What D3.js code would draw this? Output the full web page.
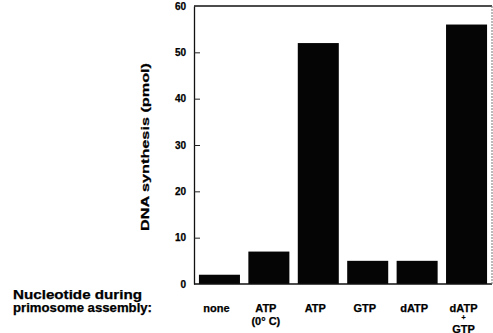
<!DOCTYPE html>
<html><head><meta charset="utf-8">
<script src="https://cdn.jsdelivr.net/npm/d3@7"></script>
<style>
body{margin:0;background:#fff;}
text{font-family:"Liberation Sans",Arial,sans-serif;font-weight:bold;fill:#000;stroke:#000;stroke-width:0.25px;}
</style></head>
<body><svg id="c" width="493" height="333"></svg>
<script>
const categories = ["none", "ATP\n(0° C)", "ATP", "GTP", "dATP", "dATP\n+\nGTP"];
const values = [2, 7, 52, 5, 5, 56];
const yTicks = [0, 10, 20, 30, 40, 50, 60];
const yTitle = "DNA synthesis (pmol)";
const rowLabel = ["Nucleotide during", "primosome assembly:"];

const svg = d3.select("#c");
const L = 194, R = 492, T = 6, B = 284;
const x = d3.scaleBand().domain(categories).range([L, R]).paddingInner(0.17).paddingOuter(0.1);
const y = d3.scaleLinear().domain([0, 60]).range([B, T]);

// bars
svg.selectAll("rect.bar").data(values).enter().append("rect")
  .attr("class","bar")
  .attr("x",(d,i)=>x(categories[i]))
  .attr("width",x.bandwidth())
  .attr("y",d=>y(d))
  .attr("height",d=>y(0)-y(d))
  .attr("fill","#050505");

// frame
svg.append("line").attr("x1",L).attr("x2",R).attr("y1",T).attr("y2",T).attr("stroke","#111").attr("stroke-width",1.3);
svg.append("line").attr("x1",L).attr("x2",R).attr("y1",B).attr("y2",B).attr("stroke","#111").attr("stroke-width",1.3);
svg.append("line").attr("x1",R).attr("x2",R).attr("y1",T).attr("y2",B).attr("stroke","#777").attr("stroke-width",1).attr("stroke-dasharray","2,1");

// y axis
const ya = svg.append("g").attr("transform",`translate(${L},0)`)
  .call(d3.axisLeft(y).tickValues(yTicks).tickSizeInner(-6).tickSizeOuter(0).tickPadding(8));
ya.select(".domain").attr("stroke","#111").attr("stroke-width",1.3);
ya.selectAll(".tick line").attr("stroke","#222");
ya.selectAll(".tick text").style("font-size","10px").style("font-weight","bold").attr("fill","#000");
ya.selectAll(".tick").filter(d=>d===0||d===60).select("line").remove();

// y title
svg.append("text").attr("transform","translate(149,147) rotate(-90)")
  .attr("text-anchor","middle").style("font-size","11px")
  .attr("textLength",168).attr("lengthAdjust","spacingAndGlyphs").text(yTitle);

// x labels
categories.forEach((c,i)=>{
  const lines = c.split("\n");
  const cx = x(c) + x.bandwidth()/2 - 3;
  const t = svg.append("text").attr("text-anchor","middle").style("font-size","11px");
  lines.forEach((ln,j)=>{
    const dy = lines.length===3 ? [312,319.5,332.5][j] : [312,325][j];
    const ts = t.append("tspan").attr("x",cx).attr("y",dy).text(ln);
    if (lines.length===3 && j===1) ts.style("font-size","7px");
  });
});

// row label
rowLabel.forEach((s,i)=>{
  svg.append("text").attr("x",13).attr("y",[299,312][i])
    .style("font-size","12px")
    .attr("textLength",[129,139][i]).attr("lengthAdjust","spacingAndGlyphs").text(s);
});
</script></body></html>
